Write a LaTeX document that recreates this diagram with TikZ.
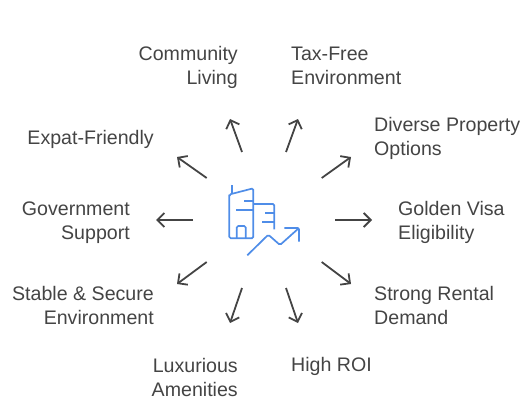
\documentclass[tikz,border=0pt]{standalone}
\usepackage{fontspec}
\setmainfont{Liberation Sans}
\definecolor{textgray}{HTML}{444444}
\definecolor{iconblue}{HTML}{4F8DE8}
\tikzset{
  lefttext/.style={anchor=east,align=right,text=textgray,inner sep=0pt,font=\fontsize{19.6}{24}\selectfont},
  righttext/.style={anchor=west,align=left,text=textgray,inner sep=0pt,font=\fontsize{19.6}{24}\selectfont},
  spoke/.style={draw=textgray,line width=1.8pt,-{Straight Barb[length=7pt,width=14pt,line width=1.8pt]}},
  iconline/.style={draw=iconblue,line width=1.7pt,rounded corners=1.5pt}
}
\usetikzlibrary{arrows.meta}

\begin{document}
\begin{tikzpicture}[x=1pt,y=-1pt]

\useasboundingbox (0,0) rectangle (526,414);

\node[lefttext] (community) at (238,67) {Community\\Living};
\node[righttext] (taxfree) at (291,66) {Tax-Free\\Environment};
\node[righttext] (diverse) at (374,138) {Diverse Property\\Options};
\node[lefttext] (expat) at (154,139) {Expat-Friendly};
\node[lefttext] (government) at (130,223) {Government\\Support};
\node[righttext] (golden) at (398,222.5) {Golden Visa\\Eligibility};
\node[lefttext] (stable) at (154,305) {Stable \& Secure\\Environment};
\node[righttext] (rental) at (374,305) {Strong Rental\\Demand};
\node[lefttext] (luxury) at (238,377) {Luxurious\\Amenities};
\node[righttext] (roi) at (291,366) {High ROI};

% ends of the arrows
\coordinate (a1) at (242,152);   \coordinate (b1) at (230,119);
\coordinate (a2) at (286,152);   \coordinate (b2) at (298,119);
\coordinate (a3) at (321.7,178); \coordinate (b3) at (351,157);
\coordinate (a4) at (335,220);   \coordinate (b4) at (372,220);
\coordinate (a5) at (321.7,262); \coordinate (b5) at (351,284);
\coordinate (a6) at (286,288);   \coordinate (b6) at (298,323);
\coordinate (a7) at (242,288);   \coordinate (b7) at (230,323);
\coordinate (a8) at (206.7,262); \coordinate (b8) at (177,284);
\coordinate (a9) at (193,220);   \coordinate (b9) at (156,220);
\coordinate (a10) at (206.7,178); \coordinate (b10) at (177,157);

\draw[spoke] (a1) -- (b1);
\draw[spoke] (a2) -- (b2);
\draw[spoke] (a3) -- (b3);
\draw[spoke] (a4) -- (b4);
\draw[spoke] (a5) -- (b5);
\draw[spoke] (a6) -- (b6);
\draw[spoke] (a7) -- (b7);
\draw[spoke] (a8) -- (b8);
\draw[spoke] (a9) -- (b9);
\draw[spoke] (a10) -- (b10);

% building and trend line
\draw[iconline] (232.3,185) -- (232.3,193.3);
\draw[iconline] (229.3,196) -- (229.3,194.5) -- (253.3,188.3) -- (253.3,238.3) -- (229.3,238.3) -- cycle;
\draw[iconline] (244,201) -- (253.3,201);
\draw[iconline] (236,210) -- (253.3,210);
\draw[iconline] (253.3,204) -- (274.3,204) -- (274.3,229.3);
\draw[iconline] (265,212.7) -- (274.3,212.7);
\draw[iconline] (262.3,221.7) -- (274.3,221.7);
\draw[iconline] (236.7,238.3) -- (236.7,226) -- (245.7,226) -- (245.7,238.3);
\draw[iconline] (247.3,255.3) -- (268.3,234.7) -- (280,245) -- (299,228);
\draw[iconline] (284.3,228) -- (299,228) -- (299,241.7);

\end{tikzpicture}
\end{document}
